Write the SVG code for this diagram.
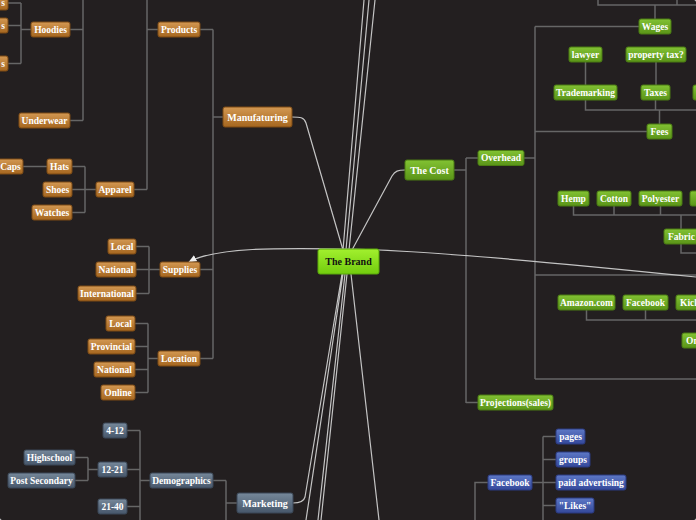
<svg xmlns="http://www.w3.org/2000/svg" width="696" height="520" viewBox="0 0 696 520">
<defs>
<linearGradient id="gb" x1="0" y1="0" x2="0" y2="1"><stop offset="0" stop-color="#d39852"/><stop offset="1" stop-color="#a5661f"/></linearGradient>
<linearGradient id="gg" x1="0" y1="0" x2="0" y2="1"><stop offset="0" stop-color="#82c233"/><stop offset="1" stop-color="#5a9418"/></linearGradient>
<linearGradient id="gr" x1="0" y1="0" x2="0" y2="1"><stop offset="0" stop-color="#a2f02e"/><stop offset="1" stop-color="#72cc0e"/></linearGradient>
<linearGradient id="gs" x1="0" y1="0" x2="0" y2="1"><stop offset="0" stop-color="#76889a"/><stop offset="1" stop-color="#46566a"/></linearGradient>
<linearGradient id="gu" x1="0" y1="0" x2="0" y2="1"><stop offset="0" stop-color="#5d78c6"/><stop offset="1" stop-color="#34489a"/></linearGradient>
<marker id="arr" viewBox="0 0 10 10" refX="9" refY="5" markerWidth="7" markerHeight="7" orient="auto"><path d="M0,1 L10,5 L0,9 Z" fill="#f0f0f0"/></marker>
<style>
rect{rx:2;ry:2;stroke-width:1}
.b rect{fill:url(#gb);stroke:#7d4b15}
.g rect{fill:url(#gg);stroke:#4a7a12}
.r rect{fill:url(#gr);stroke:#5aa80a}
.s rect{fill:url(#gs);stroke:#3a4756}
.u rect{fill:url(#gu);stroke:#2a3a80}
text{font-family:"Liberation Serif",serif;font-weight:bold;font-size:9.5px;fill:#fff;text-anchor:middle}
.r text{fill:#111;font-size:10px}
.big text{font-size:10px}
.st{text-anchor:start}
.tree{fill:none;stroke:#666;stroke-width:1.5}
.long{fill:none;stroke:#c4c4c4;stroke-width:1.2}
</style>
</defs>
<rect x="0" y="0" width="696" height="520" fill="#231f20" rx="0"/>
<g id="connectors">
<path class="tree" d="M8,3H21 M8,25.5H21 M8,63.5H21 M21,3V63.5 M21,29.5H31 M70,29.5H83 M70,120.5H83 M83,0V120.5 M158,29.5H147 M147,0V189.5 M134,189.5H147 M200,29.5H213 M213,29.5V358.5 M223,117H213 M200,269.5H213 M200,358.5H213 M23,166.5H47 M72,166.5H85 M85,166.5V212.5 M72,189.5H96 M72,212.5H85 M136,246.5H149 M149,246.5V293.5 M136,269.5H160 M136,293.5H149 M135,323.5H148 M148,323.5V392.5 M135,346.5H148 M135,369.5H148 M135,392.5H148 M158,358.5H148"/>
<path class="tree" d="M127,430.5H140 M140,430.5V520 M127,469.5H140 M127,506.5H140 M150,480.5H140 M75,457.5H88 M88,457.5V480.5 M75,480.5H88 M98,469.5H88 M213,480.5H226 M226,480.5V520 M237,503H226"/>
<path class="tree" d="M454,170H466 M466,158V403 M478,158H466 M478,402.5H466 M524,158H535 M535,26.5V379 M639,26.5H535 M647,131.5H535 M535,275H696 M535,379H696 M655,19V5 M598,0V5H696 M677,0V5 M585.5,62V85 M656,62V85 M585.5,100V110H696 M655.5,100V110 M659.5,110V124 M573.5,206V215H696 M614,206V215 M660.5,206V215 M681,215V229 M681,244V253H696 M586.5,310V320H696 M645.5,310V320"/>
<path class="tree" d="M488,482.5H475V520 M532,482.5H543 M543,436.5V520 M556,436.5H543 M556,459.5H543 M556,482.5H543 M556,505.5H543"/>
<path class="long" d="M343,250 L364,0 M346,250 L369,0 M349,250 L375,0"/>
<path class="long" d="M292,117 C300,117 304,117 306,123 L343,250"/>
<path class="long" d="M405,170 C398,170 395,171 392,176 L352,250"/>
<path class="long" d="M342,274 L305,497 C304,501 300,503 293,503 M343,274 L306,520 M345,274 L318,520 M347,274 L321,520 M351,274 L379,520"/>
<path class="long" d="M696,277 C560,263 420,250 348,249 C280,248 215,247 189,262" marker-end="url(#arr)"/>
</g>
<g id="n-s1" class="b"><rect x="-40" y="-5" width="48" height="15"/><text x="3" y="5.8">s</text></g>
<g id="n-s2" class="b"><rect x="-40" y="18" width="48" height="15"/><text x="3" y="28.8">s</text></g>
<g id="n-s3" class="b"><rect x="-40" y="56" width="48" height="15"/><text x="3" y="66.8">s</text></g>
<g id="n-hoodies" class="b"><rect x="31" y="22" width="39" height="15"/><text x="50.5" y="32.8">Hoodies</text></g>
<g id="n-products" class="b"><rect x="158" y="22" width="42" height="15"/><text x="179" y="32.8">Products</text></g>
<g id="n-underwear" class="b"><rect x="19" y="113" width="51" height="15"/><text x="44.5" y="123.8">Underwear</text></g>
<g id="n-manufaturing" class="b big"><rect x="223" y="107" width="69" height="20"/><text x="257.5" y="120.5">Manufaturing</text></g>
<g id="n-caps" class="b"><rect x="-10" y="159" width="33" height="15"/><text x="10.5" y="169.8">Caps</text></g>
<g id="n-hats" class="b"><rect x="47" y="159" width="25" height="15"/><text x="59.5" y="169.8">Hats</text></g>
<g id="n-shoes" class="b"><rect x="43" y="182" width="29" height="15"/><text x="57.5" y="192.8">Shoes</text></g>
<g id="n-apparel" class="b"><rect x="96" y="182" width="38" height="15"/><text x="115" y="192.8">Apparel</text></g>
<g id="n-watches" class="b"><rect x="32" y="205" width="40" height="15"/><text x="52" y="215.8">Watches</text></g>
<g id="n-local1" class="b"><rect x="108" y="239" width="28" height="15"/><text x="122" y="249.8">Local</text></g>
<g id="n-national1" class="b"><rect x="96" y="262" width="40" height="15"/><text x="116" y="272.8">National</text></g>
<g id="n-supplies" class="b"><rect x="160" y="262" width="40" height="15"/><text x="180" y="272.8">Supplies</text></g>
<g id="n-international" class="b"><rect x="78" y="286" width="58" height="15"/><text x="107" y="296.8">International</text></g>
<g id="n-local2" class="b"><rect x="106" y="316" width="29" height="15"/><text x="120.5" y="326.8">Local</text></g>
<g id="n-provincial" class="b"><rect x="88" y="339" width="47" height="15"/><text x="111.5" y="349.8">Provincial</text></g>
<g id="n-national2" class="b"><rect x="94" y="362" width="41" height="15"/><text x="114.5" y="372.8">National</text></g>
<g id="n-online" class="b"><rect x="101" y="385" width="34" height="15"/><text x="118" y="395.8">Online</text></g>
<g id="n-location" class="b"><rect x="158" y="351" width="42" height="15"/><text x="179" y="361.8">Location</text></g>
<g id="n-4-12" class="s"><rect x="103" y="423" width="24" height="15"/><text x="115" y="433.8">4-12</text></g>
<g id="n-highschool" class="s"><rect x="24" y="450" width="51" height="15"/><text x="49.5" y="460.8">Highschool</text></g>
<g id="n-12-21" class="s"><rect x="98" y="462" width="29" height="15"/><text x="112.5" y="472.8">12-21</text></g>
<g id="n-postsecondary" class="s"><rect x="8" y="473" width="67" height="15"/><text x="41.5" y="483.8">Post Secondary</text></g>
<g id="n-demographics" class="s"><rect x="150" y="473" width="63" height="15"/><text x="181.5" y="483.8">Demographics</text></g>
<g id="n-21-40" class="s"><rect x="98" y="499" width="29" height="15"/><text x="112.5" y="509.8">21-40</text></g>
<g id="n-marketing" class="s big"><rect x="237" y="493" width="56" height="20"/><text x="265" y="506.5">Marketing</text></g>
<g id="n-brand" class="r"><rect x="318" y="249" width="61" height="25"/><text x="348.5" y="265">The Brand</text></g>
<g id="n-cost" class="g big"><rect x="405" y="160" width="49" height="20"/><text x="429.5" y="173.5">The Cost</text></g>
<g id="n-overhead" class="g"><rect x="478" y="150.5" width="46" height="15"/><text x="501" y="161.3">Overhead</text></g>
<g id="n-wages" class="g"><rect x="639" y="19" width="32" height="15"/><text x="655" y="29.8">Wages</text></g>
<g id="n-lawyer" class="g"><rect x="569" y="47" width="33" height="15"/><text x="585.5" y="57.8">lawyer</text></g>
<g id="n-propertytax" class="g"><rect x="626" y="47" width="60" height="15"/><text x="656" y="57.8">property tax?</text></g>
<g id="n-trademarking" class="g"><rect x="554" y="85" width="63" height="15"/><text x="585.5" y="95.8">Trademarking</text></g>
<g id="n-taxes" class="g"><rect x="641" y="85" width="29" height="15"/><text x="655.5" y="95.8">Taxes</text></g>
<g id="n-partial1" class="g"><rect x="693" y="85" width="30" height="15"/></g>
<g id="n-fees" class="g"><rect x="647" y="124" width="25" height="15"/><text x="659.5" y="134.8">Fees</text></g>
<g id="n-hemp" class="g"><rect x="558" y="191" width="31" height="15"/><text x="573.5" y="201.8">Hemp</text></g>
<g id="n-cotton" class="g"><rect x="597" y="191" width="34" height="15"/><text x="614" y="201.8">Cotton</text></g>
<g id="n-polyester" class="g"><rect x="639" y="191" width="43" height="15"/><text x="660.5" y="201.8">Polyester</text></g>
<g id="n-partial2" class="g"><rect x="690" y="191" width="30" height="15"/></g>
<g id="n-fabric" class="g"><rect x="664" y="229" width="35" height="15"/><text x="681.5" y="239.8">Fabric</text></g>
<g id="n-amazon" class="g"><rect x="558" y="295" width="57" height="15"/><text x="586.5" y="305.8">Amazon.com</text></g>
<g id="n-facebook1" class="g"><rect x="623" y="295" width="45" height="15"/><text x="645.5" y="305.8">Facebook</text></g>
<g id="n-kick" class="g"><rect x="676" y="295" width="40" height="15"/><text class="st" x="680" y="305.8">Kick</text></g>
<g id="n-on" class="g"><rect x="682" y="333" width="40" height="15"/><text class="st" x="686" y="343.8">On</text></g>
<g id="n-projections" class="g"><rect x="478" y="395" width="75" height="15"/><text x="515.5" y="405.8">Projections(sales)</text></g>
<g id="n-pages" class="u"><rect x="556" y="429" width="29" height="15"/><text x="570.5" y="439.8">pages</text></g>
<g id="n-groups" class="u"><rect x="556" y="452" width="34" height="15"/><text x="573" y="462.8">groups</text></g>
<g id="n-facebook2" class="u"><rect x="488" y="475" width="44" height="15"/><text x="510" y="485.8">Facebook</text></g>
<g id="n-paid" class="u"><rect x="556" y="475" width="70" height="15"/><text x="591" y="485.8">paid advertising</text></g>
<g id="n-likes" class="u"><rect x="556" y="498" width="38" height="15"/><text x="575" y="508.8">"Likes"</text></g>
</svg>
